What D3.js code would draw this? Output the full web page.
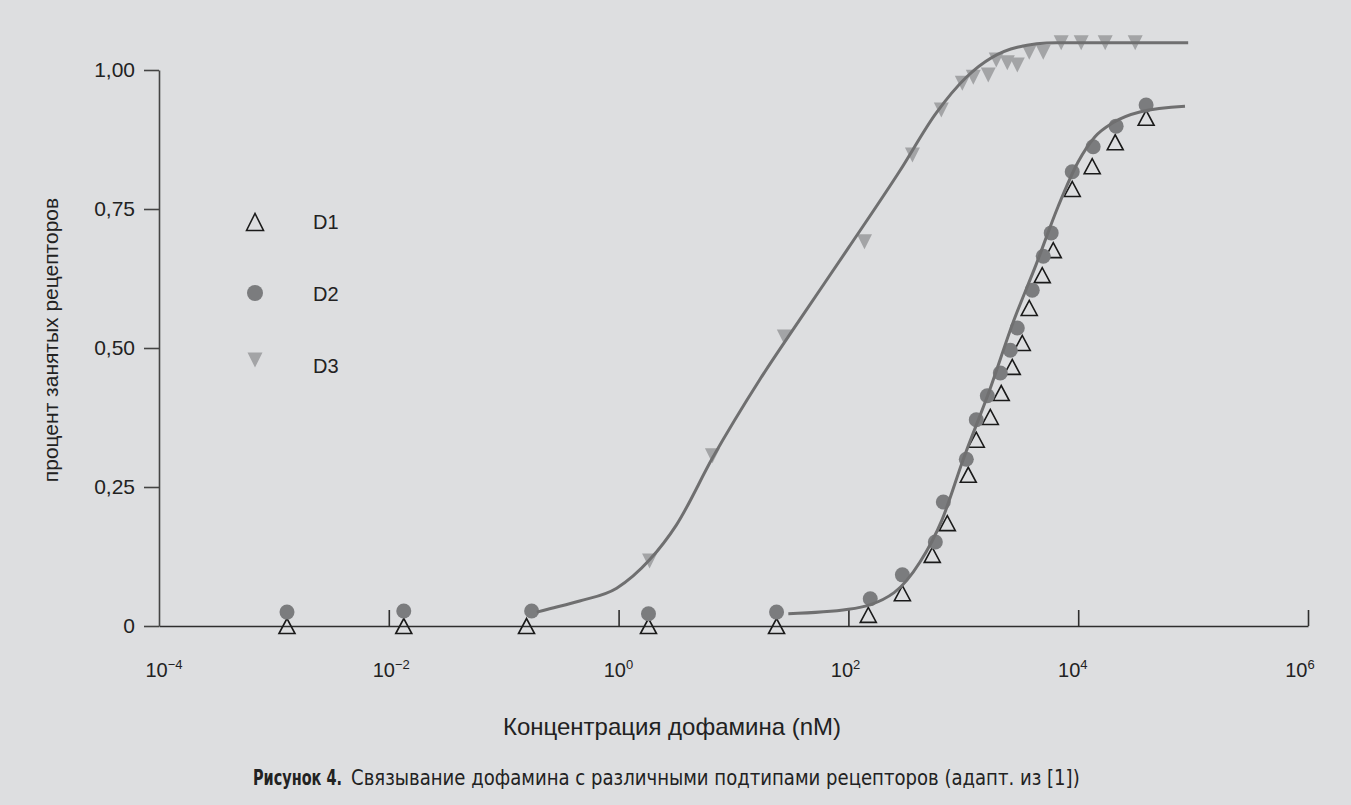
<!DOCTYPE html>
<html lang="ru">
<head>
<meta charset="UTF-8">
<title>Связывание дофамина</title>
<script src="https://cdn.jsdelivr.net/npm/d3@7"></script>
<style>
  body { margin: 0; background: #dddee0; }
  svg { display: block; }
  text { font-family: 'Liberation Sans', Arial, sans-serif; fill: #222; }
</style>
</head>
<body>
<div id="chart"></div>
<script>
// концентрация (nM) и доля занятых рецепторов
const d1Conc = [0.0013, 0.0135, 0.158, 1.82, 23.7, 149, 295, 537, 726, 1104, 1297, 1718, 2138, 2667, 3258, 3750, 4864, 6067, 8872, 13240, 20990, 38990]
const d1Occ = [0, 0, 0, 0, 0, 0.020, 0.059, 0.128, 0.185, 0.272, 0.335, 0.376, 0.419, 0.466, 0.509, 0.572, 0.631, 0.676, 0.786, 0.827, 0.870, 0.914]

const d2Conc = [0.0013, 0.0135, 0.175, 1.82, 23.7, 155, 295, 571, 670, 1062, 1297, 1618, 2099, 2564, 2951, 3981, 4966, 5821, 8872, 13490, 21380, 38990]
const d2Occ = [0.025, 0.027, 0.027, 0.022, 0.025, 0.049, 0.092, 0.151, 0.223, 0.300, 0.371, 0.414, 0.455, 0.496, 0.536, 0.604, 0.665, 0.707, 0.817, 0.862, 0.899, 0.937]

const d3Conc = [1.86, 6.56, 27.7, 138, 361, 644, 980, 1222, 1648, 1936, 2415, 2951, 3750, 4966, 7112, 10620, 17180, 31330]
const d3Occ = [0.117, 0.306, 0.520, 0.691, 0.847, 0.928, 0.976, 0.987, 0.991, 1.018, 1.013, 1.009, 1.032, 1.032, 1.049, 1.049, 1.049, 1.049]

// аппроксимирующие кривые
const fitD3Conc = [0.194, 0.251, 0.458, 0.962, 1.86, 3.19, 6.56, 16.8, 37.5, 100, 277, 582, 1062, 2951, 6442, 90600]
const fitD3Occ = [0.025, 0.031, 0.045, 0.068, 0.119, 0.182, 0.302, 0.442, 0.550, 0.680, 0.817, 0.923, 0.987, 1.041, 1.049, 1.049]

const fitD12Conc = [30, 100, 250, 420, 650, 1000, 1700, 2700, 4300, 6700, 10000, 14000, 20000, 35000, 85000]
const fitD12Occ = [0.022, 0.030, 0.060, 0.115, 0.190, 0.300, 0.425, 0.545, 0.650, 0.755, 0.835, 0.880, 0.905, 0.925, 0.935]

const xTicks = [1e-4, 1e-2, 1, 1e2, 1e4, 1e6]
const xTickExp = ['−4', '−2', '0', '2', '4', '6']
const yTicks = [0, 0.25, 0.5, 0.75, 1]
const legendNames = ['D1', 'D2', 'D3']

const width = 1351
const height = 805
const curveColor = '#6f6f70'

const svg = d3.select('#chart')
  .append('svg')
  .attr('width', width)
  .attr('height', height)
  .style('background', '#dddee0')

const xScale = d3.scaleLog()
  .domain([1e-4, 1e6])
  .range([159, 1308])

const yScale = d3.scaleLinear()
  .domain([0, 1])
  .range([626, 70])

// оси
const xAxis = d3.axisBottom(xScale)
  .tickValues(xTicks.slice(1))
  .tickFormat('')
  .tickSizeInner(-16)
  .tickSizeOuter(0)

const gx = svg.append('g')
  .attr('transform', `translate(0, ${yScale(0)})`)
  .call(xAxis)

gx.select('.domain').attr('stroke', '#2e2e2e').attr('stroke-width', 1.6)
gx.selectAll('.tick line').attr('stroke', '#2e2e2e').attr('stroke-width', 1.6)

const yAxis = d3.axisLeft(yScale)
  .tickValues(yTicks)
  .tickSizeInner(15)
  .tickSizeOuter(0)
  .tickPadding(9)
  .tickFormat(d => d === 0 ? '0' : d3.format('.2f')(d).replace('.', ','))

const gy = svg.append('g')
  .attr('transform', `translate(${xScale(1e-4)}, 0)`)
  .call(yAxis)

gy.select('.domain').attr('stroke', '#444').attr('stroke-width', 1.6)
gy.selectAll('.tick line').attr('stroke', '#444').attr('stroke-width', 1.6)
gy.selectAll('.tick text')
  .style('font-family', "'Liberation Sans', Arial, sans-serif")
  .style('font-size', '21px')
  .attr('fill', '#222')

// подписи делений по x: 10 в степени
const xLabels = svg.append('g')

xTicks.forEach((t, i) => {
  const txt = xLabels.append('text')
    .attr('x', xScale(t) + 5 - i * 2.6)
    .attr('y', 677)
    .attr('text-anchor', 'middle')
    .style('font-size', '20px')
  txt.append('tspan').text('10')
  txt.append('tspan')
    .attr('dy', -8)
    .style('font-size', '13px')
    .text(xTickExp[i])
})

// подписи осей
svg.append('text')
  .attr('x', 672)
  .attr('y', 735)
  .attr('text-anchor', 'middle')
  .style('font-size', '24px')
  .text('Концентрация дофамина (nM)')

svg.append('text')
  .attr('transform', 'translate(58, 340) rotate(-90)')
  .attr('text-anchor', 'middle')
  .style('font-size', '21px')
  .text('процент занятых рецепторов')

// подпись рисунка: узкий шрифт, сжатый до ширины оригинала
function narrowText(str, x, y, targetWidth, bold) {
  const g = svg.append('g')
  const t = g.append('text')
    .style('font-family', "'Liberation Sans Narrow', 'DejaVu Sans Condensed', sans-serif")
    .style('font-size', '21px')
    .style('font-weight', bold ? 'bold' : 'normal')
    .text(str)
  const len = t.node().getComputedTextLength()
  g.attr('transform', `translate(${x}, ${y}) scale(${targetWidth / len}, 1)`)
}

narrowText('Рисунок 4.', 253, 785, 89, true)
narrowText('Связывание дофамина с различными подтипами рецепторов (адапт. из [1])', 351, 785, 729, false)

// маркеры
const upTriangle = (cx, cy, w, h) =>
  `M${cx - w / 2},${cy + h / 2}L${cx},${cy - h / 2}L${cx + w / 2},${cy + h / 2}Z`
const downTriangle = (cx, cy, w, h) =>
  `M${cx - w / 2},${cy - h / 2}L${cx + w / 2},${cy - h / 2}L${cx},${cy + h / 2}Z`

svg.append('g')
  .selectAll('path')
  .data(d3Conc.map((c, i) => [c, d3Occ[i]]))
  .enter()
  .append('path')
  .attr('d', d => downTriangle(xScale(d[0]), yScale(d[1]), 15, 15))
  .attr('fill', '#a3a4a6')

svg.append('g')
  .selectAll('path')
  .data(d1Conc.map((c, i) => [c, d1Occ[i]]))
  .enter()
  .append('path')
  .attr('d', d => upTriangle(xScale(d[0]), yScale(d[1]), 16, 15))
  .attr('fill', 'none')
  .attr('stroke', '#1a1a1a')
  .attr('stroke-width', 1.6)

svg.append('g')
  .selectAll('circle')
  .data(d2Conc.map((c, i) => [c, d2Occ[i]]))
  .enter()
  .append('circle')
  .attr('cx', d => xScale(d[0]))
  .attr('cy', d => yScale(d[1]))
  .attr('r', 7.5)
  .attr('fill', '#7b7c7e')

// кривые
const line = d3.line()
  .x(d => xScale(d[0]))
  .y(d => yScale(d[1]))
  .curve(d3.curveMonotoneX)

svg.append('path')
  .datum(fitD3Conc.map((c, i) => [c, fitD3Occ[i]]))
  .attr('d', line)
  .attr('fill', 'none')
  .attr('stroke', curveColor)
  .attr('stroke-width', 3)

svg.append('path')
  .datum(fitD12Conc.map((c, i) => [c, fitD12Occ[i]]))
  .attr('d', line)
  .attr('fill', 'none')
  .attr('stroke', curveColor)
  .attr('stroke-width', 3)

// легенда
const legend = svg.append('g')
const legendY = [222, 293, 360]

legend.append('path')
  .attr('d', upTriangle(255, legendY[0], 17, 17))
  .attr('fill', 'none')
  .attr('stroke', '#1a1a1a')
  .attr('stroke-width', 1.6)

legend.append('circle')
  .attr('cx', 255)
  .attr('cy', legendY[1])
  .attr('r', 8)
  .attr('fill', '#7b7c7e')

legend.append('path')
  .attr('d', downTriangle(255, legendY[2], 15, 15))
  .attr('fill', '#a3a4a6')

legend.selectAll('text')
  .data(legendNames)
  .enter()
  .append('text')
  .attr('x', 313)
  .attr('y', (d, i) => legendY[i] + [7, 8, 13][i])
  .style('font-size', '20px')
  .text(d => d)
</script>
</body>
</html>
